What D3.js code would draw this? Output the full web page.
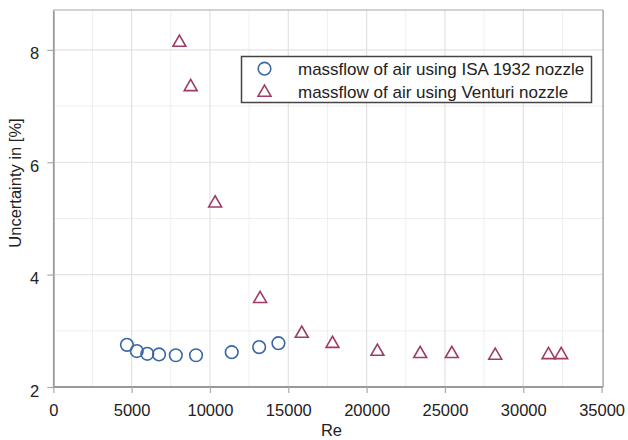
<!DOCTYPE html>
<html>
<head>
<meta charset="utf-8">
<script src="https://cdn.jsdelivr.net/npm/d3@7"></script>
<style>
  html, body { margin: 0; padding: 0; background: #fff; }
  text { font-family: "Liberation Sans", Arial, sans-serif; fill: #222; }
</style>
</head>
<body>
<svg id="chart" width="628" height="440"></svg>
<script>
// ---- data ----
const isaRe = [4700, 5330, 6000, 6750, 7820, 9110, 11390, 13140, 14370];
const isaU  = [2.75, 2.64, 2.59, 2.58, 2.565, 2.565, 2.62, 2.71, 2.78];
const venRe = [8050, 8770, 10330, 13200, 15860, 17820, 20690, 23420, 25440, 28210, 31610, 32420];
const venU  = [8.14, 7.35, 5.28, 3.58, 2.96, 2.78, 2.64, 2.60, 2.60, 2.57, 2.58, 2.58];
const xTicks = [0, 5000, 10000, 15000, 20000, 25000, 30000, 35000];
const yTicks = [2, 4, 6, 8];
const seriesNames = ["massflow of air using ISA 1932 nozzle", "massflow of air using Venturi nozzle"];
const xTitle = "Re";
const yTitle = "Uncertainty in [%]";

// ---- layout ----
const svg = d3.select("#chart");
const L = 53.3, R = 601.6, T = 10, B = 387;
const x = d3.scaleLinear().domain([0, 35000]).range([L, R]);
const y = d3.scaleLinear().domain([2, 8.71]).range([B, T]);
const blue = "#3a66a3", red = "#9e3b68";

// minor grid
const g = svg.append("g");
g.selectAll("line.vminor").data(d3.range(2500, 35000, 5000)).join("line")
  .attr("x1", d => x(d)).attr("x2", d => x(d)).attr("y1", T).attr("y2", B)
  .attr("stroke", "#efefef").attr("stroke-width", 1);
g.selectAll("line.hminor").data([3, 5, 7]).join("line")
  .attr("y1", d => y(d)).attr("y2", d => y(d)).attr("x1", L).attr("x2", R + 1.5)
  .attr("stroke", "#efefef").attr("stroke-width", 1);
// major grid
g.selectAll("line.vmajor").data(xTicks.slice(1, -1)).join("line")
  .attr("x1", d => x(d)).attr("x2", d => x(d)).attr("y1", T).attr("y2", B)
  .attr("stroke", "#e2e2e2").attr("stroke-width", 1.2);
g.selectAll("line.hmajor").data(yTicks.slice(1)).join("line")
  .attr("y1", d => y(d)).attr("y2", d => y(d)).attr("x1", L).attr("x2", R + 1.5)
  .attr("stroke", "#e2e2e2").attr("stroke-width", 1.2);

// frame top / right
svg.append("line").attr("x1", L).attr("x2", R + 1.5).attr("y1", T).attr("y2", T)
  .attr("stroke", "#a8a8a8").attr("stroke-width", 1.2);
svg.append("line").attr("x1", R + 1.5).attr("x2", R + 1.5).attr("y1", T).attr("y2", B)
  .attr("stroke", "#a8a8a8").attr("stroke-width", 1.5);

// axes
const fmt = d3.format("d");
const xAxis = d3.axisBottom(x).tickValues(xTicks).tickFormat(fmt).tickSize(6).tickSizeOuter(0).tickPadding(8);
const yAxis = d3.axisLeft(y).tickValues(yTicks).tickFormat(fmt).tickSize(6).tickSizeOuter(0).tickPadding(8);
const gx = svg.append("g").attr("transform", `translate(0,${B})`).call(xAxis);
const gy = svg.append("g").attr("transform", `translate(${L},0)`).call(yAxis);
[gx, gy].forEach(a => {
  a.select(".domain").attr("stroke", "#999").attr("stroke-width", 1.8);
  a.selectAll(".tick line").attr("stroke", "#aaa").attr("stroke-width", 1.2);
  a.selectAll(".tick text").attr("font-family", "Liberation Sans, Arial, sans-serif")
    .attr("font-size", 16.5).attr("fill", "#222");
});
gx.select(".domain").attr("d", `M${L},0H${R + 1.5}`);
gx.selectAll(".tick text").attr("dy", "0.9em");
gy.selectAll(".tick text").attr("dy", "0.55em");

// axis titles
svg.append("text").attr("x", (L + R) / 2 + 4).attr("y", 436)
  .attr("text-anchor", "middle").attr("font-size", 16.5).text(xTitle);
svg.append("text").attr("transform", `translate(21,183) rotate(-90)`)
  .attr("text-anchor", "middle").attr("font-size", 16.5).text(yTitle);

// markers
const isa = isaRe.map((d, i) => ({ re: d, u: isaU[i] }));
const ven = venRe.map((d, i) => ({ re: d, u: venU[i] }));
svg.append("g").selectAll("circle").data(isa).join("circle")
  .attr("cx", d => x(d.re)).attr("cy", d => y(d.u)).attr("r", 6.3)
  .attr("fill", "none").attr("stroke", blue).attr("stroke-width", 1.6);
const tri = d3.symbol(d3.symbolTriangle, 72);
svg.append("g").selectAll("path").data(ven).join("path")
  .attr("d", tri).attr("transform", d => `translate(${x(d.re)},${y(d.u) + 0.5})`)
  .attr("fill", "none").attr("stroke", red).attr("stroke-width", 1.6);

// legend
const lg = svg.append("g");
lg.append("rect").attr("x", 241.5).attr("y", 56.5).attr("width", 350).attr("height", 46)
  .attr("fill", "#fff").attr("stroke", "#444").attr("stroke-width", 1.5);
lg.append("circle").attr("cx", 264.5).attr("cy", 68.7).attr("r", 6.3)
  .attr("fill", "none").attr("stroke", blue).attr("stroke-width", 1.6);
lg.append("path").attr("d", tri).attr("transform", "translate(264.5,92.5)")
  .attr("fill", "none").attr("stroke", red).attr("stroke-width", 1.6);
lg.selectAll("text").data(seriesNames).join("text")
  .attr("x", 298).attr("y", (d, i) => 75 + i * 23.3)
  .attr("font-size", 17).text(d => d);
</script>
</body>
</html>
